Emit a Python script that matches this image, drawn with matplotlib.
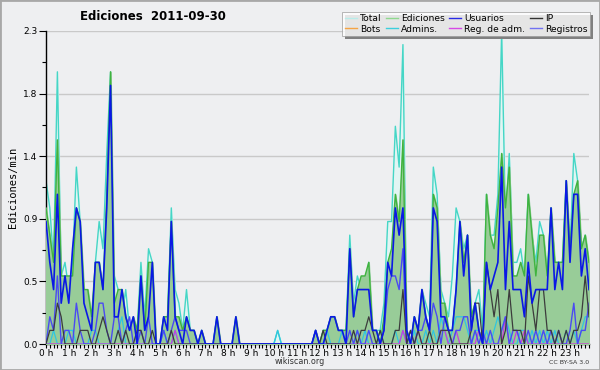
import numpy as np
import matplotlib
matplotlib.use("Agg")
import matplotlib.pyplot as plt
from matplotlib.lines import Line2D
from matplotlib.patches import Rectangle
import matplotlib.ticker as ticker

# edits per minute, one value per 10-minute slot (6 per hour, 144 total)
total = [
    1.2, 1.0, 0.6, 2.0, 0.5, 0.6,   0.4, 0.6, 1.3, 0.9, 0.4, 0.3,
    0.1, 0.6, 0.9, 0.7, 1.4, 2.0,   0.5, 0.4, 0.2, 0.4, 0.1, 0.1,
    0.1, 0.6, 0.2, 0.7, 0.6, 0.0,   0.0, 0.2, 0.2, 1.0, 0.4, 0.3,
    0.1, 0.4, 0.1, 0.1, 0.0, 0.1,   0.0, 0.0, 0.0, 0.2, 0.0, 0.0,
    0.0, 0.0, 0.2, 0.0, 0.0, 0.0,   0.0, 0.0, 0.0, 0.0, 0.0, 0.0,
    0.0, 0.1, 0.0, 0.0, 0.0, 0.0,   0.0, 0.0, 0.0, 0.0, 0.0, 0.1,
    0.0, 0.1, 0.1, 0.2, 0.2, 0.1,   0.1, 0.1, 0.8, 0.3, 0.5, 0.4,
    0.4, 0.6, 0.1, 0.1, 0.1, 0.3,   0.9, 0.9, 1.6, 1.3, 2.2, 0.1,
    0.0, 0.2, 0.1, 0.4, 0.3, 0.2,   1.3, 1.1, 0.4, 0.3, 0.2, 0.5,
    1.0, 0.9, 0.7, 0.8, 0.2, 0.3,   0.4, 0.1, 1.1, 0.8, 0.8, 1.1,
    2.3, 0.9, 1.4, 0.6, 0.6, 0.7,   0.5, 1.1, 0.8, 0.6, 0.9, 0.8,
    0.5, 1.0, 0.6, 0.6, 0.6, 1.2,   0.7, 1.4, 1.2, 0.7, 0.8, 0.6,
]
ediciones = [
    1.0, 0.8, 0.6, 1.5, 0.5, 0.5,   0.5, 0.5, 1.0, 0.9, 0.4, 0.4,
    0.2, 0.6, 0.6, 0.4, 1.1, 2.0,   0.3, 0.4, 0.4, 0.2, 0.1, 0.2,
    0.1, 0.5, 0.1, 0.6, 0.6, 0.0,   0.0, 0.2, 0.2, 0.9, 0.2, 0.2,
    0.1, 0.2, 0.1, 0.1, 0.0, 0.1,   0.0, 0.0, 0.0, 0.2, 0.0, 0.0,
    0.0, 0.0, 0.2, 0.0, 0.0, 0.0,   0.0, 0.0, 0.0, 0.0, 0.0, 0.0,
    0.0, 0.0, 0.0, 0.0, 0.0, 0.0,   0.0, 0.0, 0.0, 0.0, 0.0, 0.1,
    0.0, 0.1, 0.1, 0.2, 0.2, 0.1,   0.1, 0.1, 0.7, 0.2, 0.4, 0.5,
    0.5, 0.6, 0.1, 0.1, 0.0, 0.2,   0.6, 0.7, 1.1, 0.9, 1.5, 0.1,
    0.0, 0.2, 0.1, 0.4, 0.2, 0.1,   1.1, 1.0, 0.3, 0.3, 0.1, 0.1,
    0.4, 0.9, 0.6, 0.8, 0.2, 0.3,   0.1, 0.0, 1.1, 0.8, 0.7, 1.0,
    1.4, 1.0, 1.3, 0.5, 0.5, 0.6,   0.5, 1.1, 0.8, 0.5, 0.8, 0.8,
    0.5, 1.0, 0.6, 0.6, 0.6, 1.2,   0.7, 1.1, 1.2, 0.7, 0.8, 0.6,
]
usuarios = [
    0.9, 0.6, 0.4, 1.1, 0.3, 0.5,   0.3, 0.7, 1.0, 0.9, 0.3, 0.2,
    0.1, 0.6, 0.6, 0.4, 1.0, 1.9,   0.2, 0.2, 0.4, 0.2, 0.1, 0.2,
    0.0, 0.5, 0.1, 0.2, 0.6, 0.0,   0.0, 0.2, 0.1, 0.9, 0.2, 0.1,
    0.0, 0.2, 0.1, 0.1, 0.0, 0.1,   0.0, 0.0, 0.0, 0.2, 0.0, 0.0,
    0.0, 0.0, 0.2, 0.0, 0.0, 0.0,   0.0, 0.0, 0.0, 0.0, 0.0, 0.0,
    0.0, 0.0, 0.0, 0.0, 0.0, 0.0,   0.0, 0.0, 0.0, 0.0, 0.0, 0.1,
    0.0, 0.0, 0.1, 0.2, 0.2, 0.1,   0.1, 0.0, 0.7, 0.2, 0.4, 0.4,
    0.4, 0.4, 0.1, 0.1, 0.0, 0.1,   0.6, 0.5, 1.0, 0.8, 1.0, 0.1,
    0.0, 0.2, 0.1, 0.4, 0.2, 0.1,   1.0, 0.9, 0.2, 0.2, 0.1, 0.1,
    0.4, 0.9, 0.5, 0.8, 0.1, 0.3,   0.1, 0.0, 0.6, 0.4, 0.5, 0.6,
    1.3, 0.4, 0.9, 0.4, 0.4, 0.4,   0.2, 0.6, 0.3, 0.4, 0.4, 0.4,
    0.4, 1.0, 0.4, 0.6, 0.4, 1.2,   0.6, 1.1, 1.1, 0.5, 0.7, 0.4,
]
ip = [
    0.0, 0.1, 0.1, 0.3, 0.2, 0.0,   0.0, 0.0, 0.0, 0.1, 0.1, 0.1,
    0.0, 0.0, 0.1, 0.2, 0.1, 0.0,   0.0, 0.1, 0.0, 0.1, 0.0, 0.0,
    0.1, 0.1, 0.0, 0.0, 0.1, 0.0,   0.0, 0.0, 0.0, 0.1, 0.0, 0.0,
    0.0, 0.0, 0.0, 0.0, 0.0, 0.0,   0.0, 0.0, 0.0, 0.0, 0.0, 0.0,
    0.0, 0.0, 0.0, 0.0, 0.0, 0.0,   0.0, 0.0, 0.0, 0.0, 0.0, 0.0,
    0.0, 0.0, 0.0, 0.0, 0.0, 0.0,   0.0, 0.0, 0.0, 0.0, 0.0, 0.0,
    0.0, 0.1, 0.0, 0.0, 0.0, 0.0,   0.0, 0.0, 0.0, 0.1, 0.0, 0.1,
    0.1, 0.2, 0.1, 0.0, 0.1, 0.0,   0.0, 0.0, 0.1, 0.1, 0.4, 0.0,
    0.1, 0.0, 0.1, 0.0, 0.0, 0.1,   0.0, 0.0, 0.1, 0.1, 0.1, 0.0,
    0.0, 0.0, 0.0, 0.0, 0.1, 0.3,   0.3, 0.0, 0.6, 0.4, 0.2, 0.4,
    0.0, 0.1, 0.4, 0.1, 0.1, 0.1,   0.0, 0.5, 0.3, 0.1, 0.4, 0.4,
    0.1, 0.1, 0.0, 0.1, 0.0, 0.1,   0.0, 0.1, 0.1, 0.2, 0.5, 0.2,
]
registros = [
    0.0, 0.2, 0.1, 0.5, 0.0, 0.1,   0.1, 0.0, 0.3, 0.1, 0.0, 0.0,
    0.0, 0.1, 0.3, 0.3, 0.1, 0.0,   0.2, 0.2, 0.0, 0.1, 0.2, 0.0,
    0.0, 0.1, 0.0, 0.2, 0.0, 0.0,   0.0, 0.1, 0.0, 0.1, 0.2, 0.1,
    0.1, 0.1, 0.0, 0.0, 0.0, 0.0,   0.0, 0.0, 0.0, 0.0, 0.0, 0.0,
    0.0, 0.0, 0.0, 0.0, 0.0, 0.0,   0.0, 0.0, 0.0, 0.0, 0.0, 0.0,
    0.0, 0.0, 0.0, 0.0, 0.0, 0.0,   0.0, 0.0, 0.0, 0.0, 0.0, 0.1,
    0.0, 0.0, 0.0, 0.0, 0.0, 0.0,   0.0, 0.0, 0.1, 0.0, 0.1, 0.0,
    0.0, 0.1, 0.0, 0.0, 0.0, 0.1,   0.4, 0.5, 0.5, 0.4, 0.7, 0.0,
    0.1, 0.0, 0.1, 0.1, 0.2, 0.1,   0.3, 0.2, 0.0, 0.2, 0.1, 0.0,
    0.1, 0.1, 0.2, 0.2, 0.0, 0.1,   0.0, 0.1, 0.0, 0.1, 0.0, 0.0,
    0.1, 0.2, 0.0, 0.1, 0.1, 0.0,   0.0, 0.1, 0.0, 0.1, 0.0, 0.1,
    0.0, 0.1, 0.0, 0.1, 0.0, 0.0,   0.1, 0.3, 0.0, 0.1, 0.1, 0.3,
]
admins = [
    0.0, 0.0, 0.1, 0.0, 0.0, 0.0,   0.1, 0.1, 0.0, 0.0, 0.0, 0.0,
    0.1, 0.1, 0.0, 0.0, 0.0, 0.0,   0.0, 0.1, 0.2, 0.0, 0.0, 0.0,
    0.0, 0.0, 0.0, 0.0, 0.0, 0.0,   0.0, 0.1, 0.0, 0.0, 0.1, 0.0,
    0.0, 0.0, 0.0, 0.0, 0.0, 0.0,   0.0, 0.0, 0.0, 0.0, 0.0, 0.0,
    0.0, 0.0, 0.0, 0.0, 0.0, 0.0,   0.0, 0.0, 0.0, 0.0, 0.0, 0.0,
    0.0, 0.1, 0.0, 0.0, 0.0, 0.0,   0.0, 0.0, 0.0, 0.0, 0.0, 0.0,
    0.0, 0.0, 0.1, 0.0, 0.0, 0.0,   0.1, 0.0, 0.0, 0.0, 0.1, 0.0,
    0.1, 0.0, 0.0, 0.0, 0.1, 0.0,   0.0, 0.0, 0.1, 0.0, 0.1, 0.0,
    0.0, 0.1, 0.0, 0.0, 0.1, 0.0,   0.1, 0.0, 0.2, 0.1, 0.0, 0.1,
    0.2, 0.2, 0.2, 0.1, 0.0, 0.1,   0.1, 0.0, 0.1, 0.0, 0.1, 0.2,
    0.1, 0.2, 0.1, 0.0, 0.0, 0.1,   0.1, 0.0, 0.1, 0.0, 0.1, 0.0,
    0.1, 0.0, 0.1, 0.0, 0.0, 0.1,   0.0, 0.1, 0.0, 0.1, 0.2, 0.2,
]
reg_adm = [0.0] * 144
for i, v in [(34, 0.1), (94, 0.1), (98, 0.1), (104, 0.1), (105, 0.1),
             (108, 0.1), (114, 0.1), (121, 0.2), (124, 0.1), (126, 0.1)]:
    reg_adm[i] = v
bots = [0.0] * 144

hour_labels = [f"{h} h" for h in range(24)]

BG = "#eeeff1"

fig = plt.figure(figsize=(6, 3.7), dpi=100, facecolor=BG)
fig.patches.append(Rectangle((0, 0), 1, 1, transform=fig.transFigure,
                             fill=False, edgecolor="#a8a8a8", linewidth=2))
ax = fig.add_axes([46/600, 1 - 344/370, 543/600, 313/370], facecolor=BG)

x = np.arange(144) / 6.0

ax.fill_between(x, total, color="#e2f5f3", zorder=1)
ax.plot(x, total, color="#45d6c6", lw=1.0, zorder=2)
ax.fill_between(x, ediciones, color="#98cc98", zorder=3)
ax.plot(x, ediciones, color="#3fb33f", lw=1.0, zorder=4)
ax.plot(x, bots, color="#f5a444", lw=0.9, zorder=4)
ax.plot(x, admins, color="#2fc6e0", lw=0.9, zorder=5)
ax.plot(x, reg_adm, color="#c83ce0", lw=0.9, zorder=5)
ax.plot(x, registros, color="#4a4af2", lw=1.0, zorder=6)
ax.plot(x, ip, color="#3c3c3c", lw=0.9, zorder=6)
ax.plot(x, usuarios, color="#0a18e6", lw=1.2, zorder=7)

ax.set_xlim(0, 143 / 6.0)
ax.set_ylim(0, 2.3)

yt = [0, 0.46, 0.92, 1.38, 1.84, 2.3]
ax.set_yticks(yt)
ax.set_yticklabels(["0.0", "0.5", "0.9", "1.4", "1.8", "2.3"])
ax.yaxis.set_minor_locator(ticker.FixedLocator([0.23, 0.69, 1.15, 1.61, 2.07]))
for y in yt[1:]:
    ax.axhline(y, color="#c9c9c9", lw=1, zorder=0)

ax.set_xticks(np.arange(24))
ax.set_xticklabels(hour_labels)
ax.xaxis.set_minor_locator(ticker.FixedLocator(x))

ax.tick_params(axis="both", which="both", direction="out", color="black",
               labelsize=6.5)
ax.tick_params(axis="x", which="both", length=3, width=0.8, pad=0.5)
ax.tick_params(axis="y", which="major", length=5, width=0.8, pad=1)
ax.tick_params(axis="y", which="minor", length=3, width=0.8)

for s in ["top", "right"]:
    ax.spines[s].set_visible(False)
ax.spines["left"].set_linewidth(1.0)
ax.spines["bottom"].set_linewidth(1.0)

ax.set_ylabel("Ediciones/min", family="DejaVu Sans Mono", fontsize=7.5, labelpad=4)

fig.text(153/600, 1 - 16/370, "Ediciones  2011-09-30", ha="center", va="center",
         fontsize=8.5, fontweight="bold")
fig.text(300/600, 1 - 362/370, "wikiscan.org", ha="center", va="center",
         fontsize=5.8, color="#333333")
fig.text(589/600, 1 - 362/370, "CC BY-SA 3.0", ha="right", va="center",
         fontsize=4.5, color="#333333")

names = ["Total", "Bots", "Ediciones", "Admins.", "Usuarios", "Reg. de adm.",
         "IP", "Registros"]
colors = ["#b8ecea", "#f5a444", "#8ed88e", "#3ccfdc", "#2a2ae6", "#d64ae6",
          "#333333", "#7272f2"]
handles = [Line2D([0], [0], color=c, lw=1.0) for c in colors]
leg = fig.legend(handles, names, ncol=4, loc="upper right",
                 bbox_to_anchor=(590/600, 1 - 12/370), fontsize=6.6,
                 frameon=True, fancybox=False, handlelength=1.3,
                 handletextpad=0.35, columnspacing=0.5, labelspacing=0.15,
                 borderpad=0.25, borderaxespad=0)
leg.get_frame().set_edgecolor("#999999")
leg.get_frame().set_linewidth(0.6)
leg.set_zorder(5)

# drop shadow behind the legend box, sized from the drawn legend
fig.canvas.draw()
bb = leg.get_window_extent().transformed(fig.transFigure.inverted())
fig.patches.append(Rectangle((bb.x0 + 3/600, bb.y0 - 3/370), bb.width, bb.height,
                             transform=fig.transFigure, facecolor="#808080",
                             edgecolor="none", zorder=3))

fig.savefig("out.png", dpi=100, facecolor=BG)
